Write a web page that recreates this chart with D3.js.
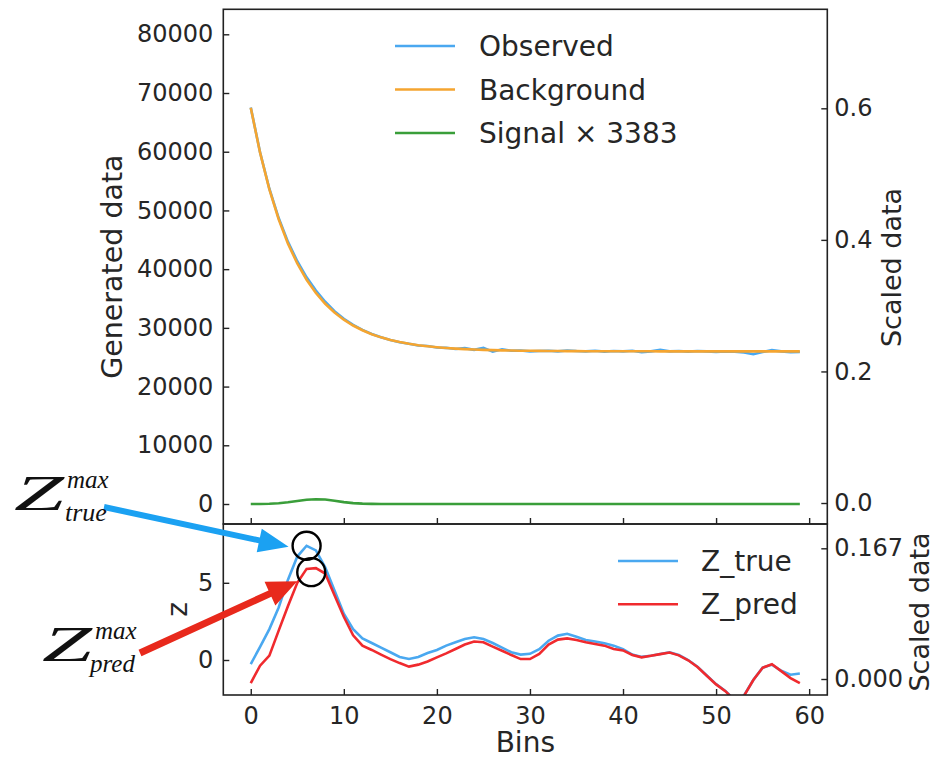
<!DOCTYPE html>
<html><head><meta charset="utf-8">
<script src="https://cdn.jsdelivr.net/npm/d3@7"></script>
<style>
html,body{margin:0;padding:0;background:#fff;}
svg{display:block;font-family:"DejaVu Sans",sans-serif;}
</style></head>
<body>
<svg id="chart" width="936" height="758"></svg>
<script>
// ---------- data ----------
const bins = d3.range(0, 60);
const observed = [67550,59900,53700,48700,44650,41350,38600,36350,34450,32850,
  31550,30500,29650,28950,28400,27950,27550,27300,27000,26900,
  26650,26600,26400,26550,26250,26600,25950,26350,26100,26150,
  26000,26050,26100,26000,26150,26050,26000,26100,25950,26050,
  26000,26100,25850,26000,26250,26000,26050,25950,26050,26000,
  25900,26000,25950,25800,25500,25900,26200,26000,25850,25900];
const background = [67500,59840,53590,48500,44340,40960,38200,35950,34110,32610,
  31390,30400,29590,28920,28380,27940,27590,27290,27050,26860,
  26700,26570,26465,26380,26310,26250,26205,26170,26135,26110,
  26090,26075,26060,26050,26040,26030,26025,26020,26015,26012,
  26010,26008,26006,26005,26004,26003,26003,26002,26002,26001,
  26001,26001,26000,26000,26000,26000,26000,26000,26000,26000];
const signalScaled = [0,10,40,130,300,520,720,820,760,560,
  320,150,60,20,5,0,0,0,0,0,
  0,0,0,0,0,0,0,0,0,0,
  0,0,0,0,0,0,0,0,0,0,
  0,0,0,0,0,0,0,0,0,0,
  0,0,0,0,0,0,0,0,0,0];
const zTrue = [-0.26,0.85,2.0,3.4,5.2,6.7,7.4,7.1,6.0,4.5,
  3.0,2.0,1.4,1.1,0.8,0.5,0.2,0.07,0.2,0.45,
  0.65,0.93,1.15,1.36,1.47,1.36,1.1,0.8,0.5,0.35,
  0.4,0.7,1.25,1.58,1.7,1.5,1.3,1.2,1.08,0.93,
  0.7,0.35,0.2,0.28,0.39,0.5,0.32,0.0,-0.43,-1.0,
  -1.56,-2.0,-2.6,-2.3,-1.3,-0.5,-0.3,-0.7,-0.95,-0.87];
const zPred = [-1.5,-0.37,0.28,1.9,3.5,5.0,5.9,5.95,5.6,4.2,
  2.8,1.6,0.93,0.65,0.35,0.06,-0.2,-0.43,-0.3,-0.1,
  0.17,0.43,0.71,1.0,1.2,1.15,0.87,0.6,0.32,0.06,
  0.06,0.39,1.0,1.32,1.4,1.3,1.15,1.04,0.93,0.71,
  0.62,0.33,0.17,0.27,0.38,0.48,0.3,-0.02,-0.45,-1.02,
  -1.58,-2.02,-2.62,-2.32,-1.3,-0.5,-0.28,-0.72,-1.17,-1.5];
const xTicks = [0,10,20,30,40,50,60];
const topLeftTicks = [0,10000,20000,30000,40000,50000,60000,70000,80000];
const topRightTicks = [0.0,0.2,0.4,0.6];
const botLeftTicks = [0,5];
const botRightTicks = [0.000,0.167];
const topLegend = ["Observed","Background","Signal \u00d7 3383"];
const botLegend = ["Z_true","Z_pred"];

// ---------- layout ----------
const L = 223.3, R = 827.3, T = 9.3, MID = 524, B = 695;
const colObs = "#4aa8f0", colBg = "#f5a530", colSig = "#3a9e3a",
      colZt = "#4aa8f0", colZp = "#f02a2e", ink = "#222";

const svg = d3.select("#chart");
const x = d3.scaleLinear().domain([-2.95, 61.95]).range([L, R]);
const yTop = d3.scaleLinear().domain([-3406, 84258]).range([MID, T]);
const yTopR = d3.scaleLinear().domain([-0.0319, 0.7505]).range([MID, T]);
const yBot = d3.scaleLinear().domain([-2.267, 8.808]).range([B, MID]);
const yBotR = d3.scaleLinear().domain([-0.02044, 0.19806]).range([B, MID]);

const defs = svg.append("defs");
defs.append("clipPath").attr("id","clipTop").append("rect")
  .attr("x",L).attr("y",T).attr("width",R-L).attr("height",MID-T);
defs.append("clipPath").attr("id","clipBot").append("rect")
  .attr("x",L).attr("y",MID).attr("width",R-L).attr("height",B-MID);

function styleAxis(g, fs){
  g.select(".domain").remove();
  g.selectAll(".tick line").attr("stroke", ink).attr("stroke-width",1.4);
  g.selectAll(".tick text").attr("fill","#262626").style("font-size",fs+"px")
    .style("font-family","DejaVu Sans");
}

// ---------- top panel ----------
const lineTop = (arr) => d3.line().x((d,i)=>x(bins[i])).y(d=>yTop(d))(arr);
const gTop = svg.append("g").attr("clip-path","url(#clipTop)");
gTop.append("path").attr("d", lineTop(observed)).attr("fill","none")
  .attr("stroke",colObs).attr("stroke-width",2.6);
gTop.append("path").attr("d", lineTop(background)).attr("fill","none")
  .attr("stroke",colBg).attr("stroke-width",2.6);
gTop.append("path").attr("d", lineTop(signalScaled)).attr("fill","none")
  .attr("stroke",colSig).attr("stroke-width",2.6);

svg.append("g").attr("transform",`translate(${L},0)`)
  .call(d3.axisLeft(yTop).tickValues(topLeftTicks).tickSize(-6).tickPadding(10).tickFormat(d3.format("d")))
  .call(g=>styleAxis(g,24));
svg.append("g").attr("transform",`translate(${R},0)`)
  .call(d3.axisRight(yTopR).tickValues(topRightTicks).tickSize(-6).tickPadding(7).tickFormat(d3.format(".1f")))
  .call(g=>styleAxis(g,24));
svg.append("g").attr("transform",`translate(0,${MID})`)
  .call(d3.axisBottom(x).tickValues(xTicks).tickSize(-6).tickFormat(""))
  .call(g=>styleAxis(g,24));

// ---------- bottom panel ----------
const lineBot = (arr) => d3.line().x((d,i)=>x(bins[i])).y(d=>yBot(d))(arr);
const gBot = svg.append("g").attr("clip-path","url(#clipBot)");
gBot.append("path").attr("d", lineBot(zTrue)).attr("fill","none")
  .attr("stroke",colZt).attr("stroke-width",2.6);
gBot.append("path").attr("d", lineBot(zPred)).attr("fill","none")
  .attr("stroke",colZp).attr("stroke-width",2.6);

svg.append("g").attr("transform",`translate(${L},0)`)
  .call(d3.axisLeft(yBot).tickValues(botLeftTicks).tickSize(-6).tickPadding(10).tickFormat(d3.format("d")))
  .call(g=>styleAxis(g,24));
svg.append("g").attr("transform",`translate(${R},0)`)
  .call(d3.axisRight(yBotR).tickValues(botRightTicks).tickSize(-6).tickPadding(7).tickFormat(d3.format(".3f")))
  .call(g=>styleAxis(g,24));
svg.append("g").attr("transform",`translate(0,${B})`)
  .call(d3.axisBottom(x).tickValues(xTicks).tickSize(-6).tickPadding(12).tickFormat(d3.format("d")))
  .call(g=>styleAxis(g,24));

// frames
svg.append("rect").attr("x",L).attr("y",T).attr("width",R-L).attr("height",MID-T)
  .attr("fill","none").attr("stroke",ink).attr("stroke-width",1.6);
svg.append("rect").attr("x",L).attr("y",MID).attr("width",R-L).attr("height",B-MID)
  .attr("fill","none").attr("stroke",ink).attr("stroke-width",1.6);

// ---------- axis labels ----------
const lab = (txt, tx, ty, rot, fs) => svg.append("text").text(txt)
  .attr("transform",`translate(${tx},${ty}) rotate(${rot})`)
  .attr("text-anchor","middle").attr("fill","#262626")
  .style("font-size",fs+"px").style("font-family","DejaVu Sans");
lab("Generated data", 122, (T+MID)/2, -90, 28.5);
lab("Scaled data", 901, 267.5, -90, 27);
lab("z", 187, (MID+B)/2, -90, 28);
lab("Scaled data", 929, 612, -90, 27);
lab("Bins", (L+R)/2, 752, 0, 28);

// ---------- legends ----------
const topCols = [colObs, colBg, colSig];
topLegend.forEach((t,i)=>{
  const yy = 46 + i*43.5;
  svg.append("line").attr("x1",395).attr("x2",455).attr("y1",yy).attr("y2",yy)
    .attr("stroke",topCols[i]).attr("stroke-width",2.6);
  svg.append("text").text(t).attr("x",479).attr("y",yy).attr("dy","0.36em")
    .attr("fill","#262626").style("font-size","28px");
});
const botCols = [colZt, colZp];
botLegend.forEach((t,i)=>{
  const yy = 561 + i*43.3;
  svg.append("line").attr("x1",618).attr("x2",678).attr("y1",yy).attr("y2",yy)
    .attr("stroke",botCols[i]).attr("stroke-width",2.6);
  svg.append("text").text(t).attr("x",701).attr("y",yy).attr("dy","0.36em")
    .attr("fill","#262626").style("font-size","28px");
});

// ---------- max markers ----------
const iT = d3.maxIndex(zTrue), iP = d3.maxIndex(zPred);
const cT = [x(bins[iT]), yBot(zTrue[iT])];
const cP = [(x(bins[iP]) + x(bins[iP-1]))/2, yBot(zPred[iP]) + 4];
[cT, cP].forEach(c => svg.append("circle").attr("cx",c[0]).attr("cy",c[1]).attr("r",14)
  .attr("fill","none").attr("stroke","#000").attr("stroke-width",2.4));

function arrow(tail, tip, w, hl, hw, col){
  const dx = tip[0]-tail[0], dy = tip[1]-tail[1], len = Math.hypot(dx,dy);
  const ux = dx/len, uy = dy/len, px = -uy, py = ux;
  const bx = tip[0]-ux*hl, by = tip[1]-uy*hl;
  const pts = [
    [tail[0]+px*w/2, tail[1]+py*w/2],[bx+px*w/2, by+py*w/2],[bx+px*hw/2, by+py*hw/2],
    tip,[bx-px*hw/2, by-py*hw/2],[bx-px*w/2, by-py*w/2],[tail[0]-px*w/2, tail[1]-py*w/2]];
  svg.append("polygon").attr("points", pts.map(p=>p.join(",")).join(" ")).attr("fill",col);
}
arrow([104,507],[cT[0]-18, cT[1]+1], 6, 30, 24, "#1ba1f2");
arrow([140,653],[cP[0]-14, cP[1]+9], 7, 30, 26, "#e8291c");

// ---------- annotation text ----------
function zlabel(x0, yb, sup, sub, zW, subShift, subFs){
  const g = svg.append("g").style("font-family","'Liberation Serif','DejaVu Serif',serif")
    .style("font-style","italic").attr("fill","#111");
  g.append("text").text("Z").attr("x",x0).attr("y",yb).style("font-size","50px")
    .attr("textLength",zW).attr("lengthAdjust","spacingAndGlyphs");
  g.append("text").text(sup).attr("x",x0+zW+3).attr("y",yb-22).style("font-size","25px");
  g.append("text").text(sub).attr("x",x0+zW+subShift).attr("y",yb+11).style("font-size",subFs+"px");
}
zlabel(14, 510, "max", "true", 50, 1, 26);
zlabel(42, 661, "max", "pred", 50, -2, 25);
</script>
</body></html>
